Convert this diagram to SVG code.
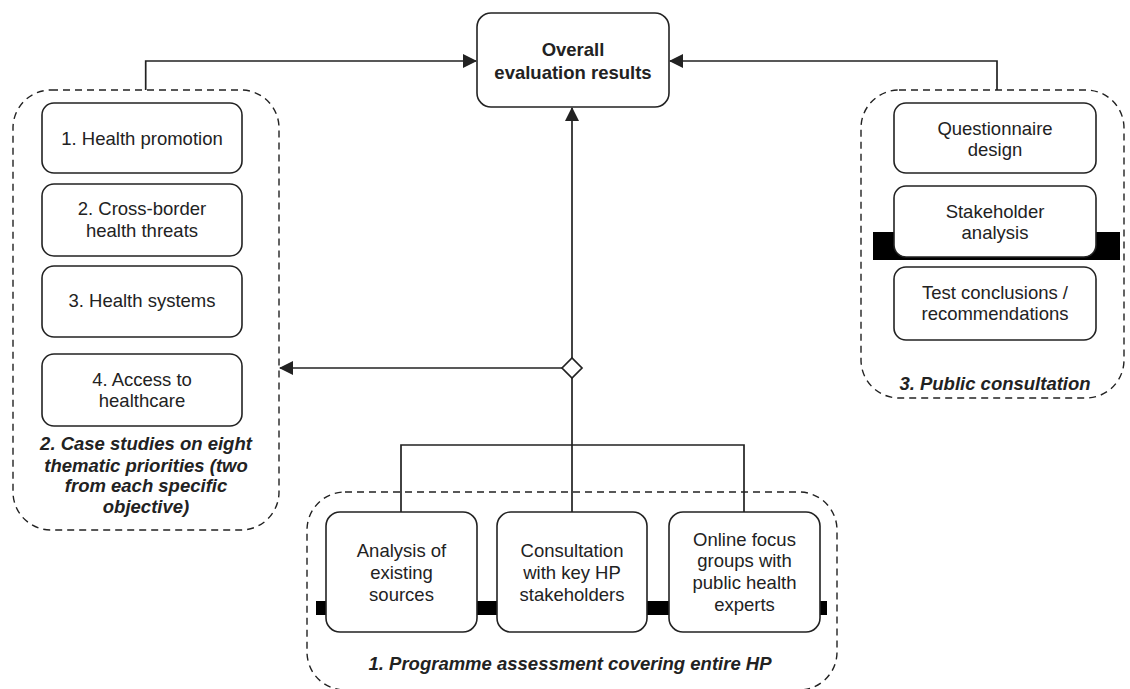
<svg xmlns="http://www.w3.org/2000/svg" width="1130" height="689" viewBox="0 0 1130 689">
<style>
.grp{fill:none;stroke:#222;stroke-width:1.4;stroke-dasharray:7 5}
.box{fill:#fff;stroke:#222;stroke-width:1.6}
.t{font-family:"Liberation Sans",Arial,sans-serif;font-size:18.5px;fill:#222;text-anchor:middle}
.b{font-weight:bold}
.bi{font-weight:bold;font-style:italic}
.c{fill:none;stroke:#222;stroke-width:1.7}
.bar{fill:#000}
</style>
<defs>
<marker id="ah" viewBox="0 0 14 14" refX="13" refY="7" markerWidth="14" markerHeight="14" markerUnits="userSpaceOnUse" orient="auto">
<path d="M0,0 L14,7 L0,14 Z" fill="#222"/>
</marker>
</defs>
<rect width="1130" height="689" fill="#fff"/>
<g id="artifacts">
<rect class="bar" x="873" y="232" width="247" height="28"/>
<rect class="bar" x="316" y="601" width="511" height="14"/>
</g>
<g id="group-case-studies">
<rect class="grp" x="13" y="90" width="266" height="440" rx="38"/>
<text class="t bi" x="146" y="449.5">2. Case studies on eight</text>
<text class="t bi" x="146" y="471.5">thematic priorities (two</text>
<text class="t bi" x="146" y="492">from each specific</text>
<text class="t bi" x="146" y="513">objective)</text>
</g>
<g id="group-public-consultation">
<rect class="grp" x="861" y="90" width="263" height="308" rx="38"/>
<text class="t bi" x="995" y="390">3. Public consultation</text>
</g>
<g id="group-programme-assessment">
<rect class="grp" x="307" y="492" width="530" height="198" rx="38"/>
<text class="t bi" x="570" y="670">1. Programme assessment covering entire HP</text>
</g>
<g id="connectors">
<path class="c" d="M145.7,90 V61 H476" marker-end="url(#ah)"/>
<path class="c" d="M997,90 V61 H670" marker-end="url(#ah)"/>
<path class="c" d="M572,358 V108" marker-end="url(#ah)"/>
<path class="c" d="M562,368 H280" marker-end="url(#ah)"/>
<path class="c" d="M572,378 V512 M401,512 V445 H744 V512"/>
<path d="M562,368 L572,358 L582,368 L572,378 Z" fill="#fff" stroke="#222" stroke-width="1.7"/>
</g>
<g id="node-overall">
<rect class="box" x="477" y="13" width="192" height="94" rx="14"/>
<text class="t b" x="573" y="56">Overall</text>
<text class="t b" x="573" y="79">evaluation results</text>
</g>
<g id="node-health-promotion">
<rect class="box" x="42" y="103" width="200" height="70" rx="12"/>
<text class="t" x="142" y="144.5">1. Health promotion</text>
</g>
<g id="node-cross-border">
<rect class="box" x="42" y="184" width="200" height="72" rx="12"/>
<text class="t" x="142" y="215">2. Cross-border</text>
<text class="t" x="142" y="237">health threats</text>
</g>
<g id="node-health-systems">
<rect class="box" x="42" y="266" width="200" height="71" rx="12"/>
<text class="t" x="142" y="307">3. Health systems</text>
</g>
<g id="node-access">
<rect class="box" x="42" y="354" width="200" height="72" rx="12"/>
<text class="t" x="142" y="386">4. Access to</text>
<text class="t" x="142" y="407">healthcare</text>
</g>
<g id="node-questionnaire">
<rect class="box" x="894" y="103" width="202" height="70" rx="12"/>
<text class="t" x="995" y="134.5">Questionnaire</text>
<text class="t" x="995" y="156">design</text>
</g>
<g id="node-stakeholder">
<rect class="box" x="894" y="186" width="202" height="71" rx="12"/>
<text class="t" x="995" y="217.5">Stakeholder</text>
<text class="t" x="995" y="238.5">analysis</text>
</g>
<g id="node-test">
<rect class="box" x="894" y="267" width="202" height="73" rx="12"/>
<text class="t" x="995" y="299">Test conclusions /</text>
<text class="t" x="995" y="320">recommendations</text>
</g>
<g id="node-analysis">
<rect class="box" x="326" y="512" width="151" height="120" rx="14"/>
<text class="t" x="401.5" y="557">Analysis of</text>
<text class="t" x="401.5" y="579">existing</text>
<text class="t" x="401.5" y="601">sources</text>
</g>
<g id="node-consultation">
<rect class="box" x="497" y="512" width="150" height="120" rx="14"/>
<text class="t" x="572" y="557">Consultation</text>
<text class="t" x="572" y="579">with key HP</text>
<text class="t" x="572" y="601">stakeholders</text>
</g>
<g id="node-online">
<rect class="box" x="669" y="512" width="151" height="120" rx="14"/>
<text class="t" x="744.5" y="545.5">Online focus</text>
<text class="t" x="744.5" y="567">groups with</text>
<text class="t" x="744.5" y="589">public health</text>
<text class="t" x="744.5" y="610.5">experts</text>
</g>
</svg>
